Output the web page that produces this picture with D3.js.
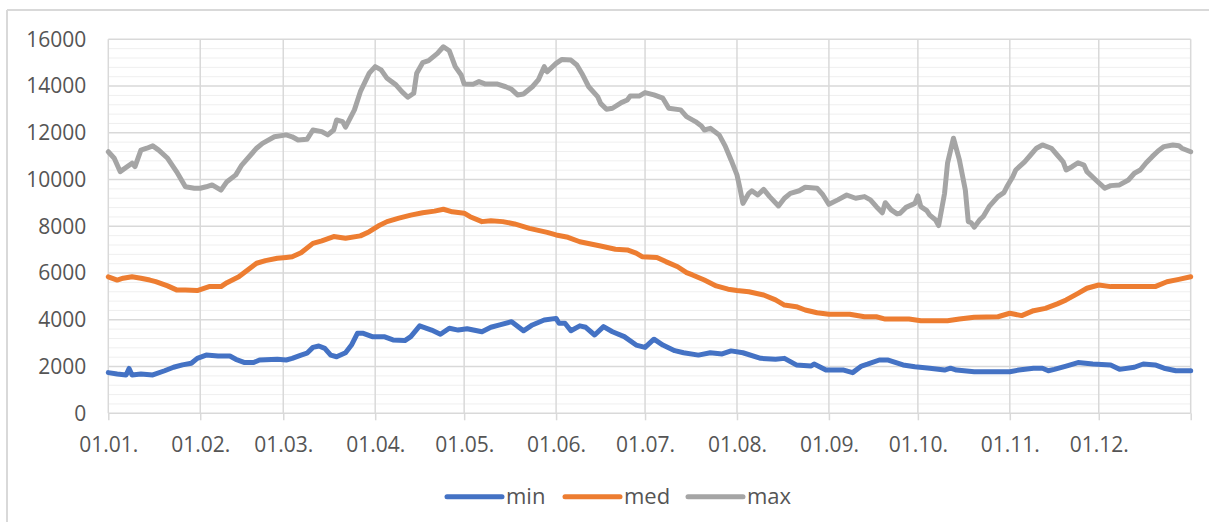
<!DOCTYPE html>
<html>
<head>
<meta charset="utf-8">
<script src="https://cdn.jsdelivr.net/npm/d3@7/dist/d3.min.js"></script>
<style>
  html, body { margin: 0; padding: 0; background: #ffffff; }
  svg { display: block; }
  text { font-family: "Open Sans", "Liberation Sans", sans-serif; fill: #555555; }
</style>
</head>
<body>
<svg id="chart" width="1209" height="526"></svg>
<script>
// ---- data (day offset from 1 January, value) ----
const monthLabels = ["01.01.", "01.02.", "01.03.", "01.04.", "01.05.", "01.06.", "01.07.", "01.08.", "01.09.", "01.10.", "01.11.", "01.12."];
const yTicks = [0, 2000, 4000, 6000, 8000, 10000, 12000, 14000, 16000];
const seriesNames = ["min", "med", "max"];

const maxDays = [0, 2, 4, 8, 9, 11, 13, 15, 17, 20, 23, 26, 29, 31, 33, 35, 38, 40, 43, 45, 48, 50, 52, 56, 60, 62, 64, 67, 69, 72, 74, 76, 77, 79, 80, 83, 85, 88, 90, 92, 94, 97, 99, 101, 103, 104, 106, 108, 111, 112, 113, 115, 117, 119, 120, 123, 125, 127, 131, 134, 136, 138, 140, 143, 145, 147, 148, 151, 153, 156, 158, 160, 162, 165, 166, 168, 170, 173, 175, 176, 179, 181, 184, 187, 189, 193, 195, 198, 200, 201, 203, 206, 208, 210, 212, 213, 214, 216, 217, 219, 221, 223, 226, 228, 230, 233, 235, 239, 241, 243, 246, 249, 252, 255, 257, 259, 261, 262, 264, 266, 267, 269, 272, 273, 274, 276, 277, 279, 280, 282, 283, 285, 287, 289, 290, 291, 292, 294, 295, 297, 300, 302, 303, 305, 306, 309, 311, 313, 315, 318, 320, 322, 323, 325, 327, 329, 330, 333, 336, 338, 341, 344, 346, 348, 350, 352, 354, 356, 359, 361, 362, 365];
const maxVals = [11190, 10910, 10340, 10700, 10550, 11260, 11340, 11440, 11260, 10910, 10340, 9690, 9630, 9630, 9690, 9770, 9550, 9910, 10200, 10620, 11050, 11340, 11550, 11830, 11910, 11830, 11690, 11720, 12120, 12050, 11910, 12120, 12550, 12480, 12240, 12980, 13760, 14550, 14830, 14690, 14330, 14050, 13760, 13520, 13690, 14550, 15000, 15090, 15400, 15540, 15680, 15510, 14830, 14470, 14090, 14080, 14190, 14090, 14090, 13970, 13860, 13620, 13660, 13970, 14260, 14830, 14610, 14970, 15140, 15110, 14900, 14470, 13970, 13550, 13260, 13010, 13050, 13290, 13400, 13570, 13570, 13720, 13620, 13480, 13050, 12980, 12690, 12480, 12290, 12120, 12190, 11910, 11440, 10840, 10200, 9630, 8980, 9410, 9520, 9340, 9580, 9270, 8870, 9200, 9410, 9520, 9670, 9630, 9340, 8940, 9130, 9340, 9200, 9270, 9130, 8840, 8580, 9010, 8700, 8530, 8560, 8810, 8980, 9300, 8840, 8670, 8480, 8270, 8030, 9410, 10700, 11770, 10840, 9550, 8200, 8150, 7960, 8300, 8410, 8840, 9270, 9440, 9690, 10120, 10410, 10760, 11050, 11340, 11480, 11340, 11050, 10760, 10410, 10550, 10720, 10620, 10340, 9980, 9630, 9740, 9770, 9980, 10270, 10410, 10720, 10980, 11220, 11410, 11480, 11450, 11340, 11190];

const medDays = [0, 3, 5, 8, 11, 14, 16, 20, 23, 26, 30, 34, 38, 40, 44, 47, 50, 53, 57, 60, 62, 65, 69, 72, 76, 80, 85, 88, 91, 94, 98, 102, 106, 110, 113, 116, 120, 122, 126, 129, 133, 137, 142, 148, 151, 155, 159, 166, 171, 175, 178, 180, 185, 188, 192, 195, 197, 201, 205, 209, 212, 216, 221, 225, 228, 232, 235, 239, 243, 250, 255, 259, 262, 270, 274, 283, 287, 292, 300, 304, 308, 312, 316, 320, 323, 327, 330, 334, 338, 345, 353, 357, 361, 365];
const medVals = [5840, 5700, 5780, 5840, 5780, 5700, 5630, 5450, 5280, 5280, 5250, 5420, 5420, 5590, 5840, 6130, 6420, 6530, 6630, 6670, 6700, 6870, 7270, 7380, 7560, 7490, 7590, 7770, 8010, 8200, 8350, 8480, 8580, 8650, 8730, 8620, 8560, 8410, 8200, 8240, 8200, 8100, 7910, 7740, 7630, 7530, 7340, 7160, 7020, 6990, 6850, 6700, 6670, 6490, 6270, 6020, 5920, 5700, 5450, 5310, 5250, 5200, 5060, 4850, 4630, 4560, 4420, 4300, 4240, 4240, 4130, 4130, 4030, 4030, 3960, 3960, 4030, 4110, 4130, 4280, 4180, 4390, 4490, 4680, 4850, 5130, 5350, 5490, 5420, 5420, 5420, 5630, 5730, 5840];

const minDays = [0, 3, 6, 7, 8, 11, 15, 19, 22, 25, 28, 30, 33, 37, 41, 43, 46, 49, 51, 57, 60, 62, 65, 67, 69, 71, 73, 75, 77, 80, 82, 84, 86, 89, 93, 96, 100, 102, 105, 109, 112, 115, 118, 121, 126, 129, 132, 136, 140, 143, 147, 151, 152, 154, 156, 159, 161, 164, 167, 170, 174, 178, 181, 184, 187, 191, 194, 199, 203, 207, 210, 214, 220, 225, 228, 232, 237, 238, 242, 248, 251, 254, 256, 260, 263, 268, 272, 277, 282, 284, 286, 292, 304, 307, 312, 315, 317, 319, 323, 327, 332, 338, 341, 346, 349, 353, 356, 360, 365];
const minVals = [1740, 1680, 1640, 1920, 1640, 1680, 1640, 1820, 1970, 2070, 2140, 2350, 2490, 2450, 2450, 2310, 2170, 2170, 2280, 2310, 2280, 2350, 2490, 2570, 2820, 2880, 2780, 2490, 2420, 2590, 2920, 3420, 3420, 3280, 3280, 3140, 3110, 3280, 3740, 3560, 3380, 3640, 3560, 3620, 3490, 3680, 3780, 3920, 3530, 3780, 3990, 4060, 3850, 3850, 3530, 3740, 3680, 3350, 3710, 3490, 3280, 2920, 2820, 3170, 2920, 2680, 2590, 2490, 2590, 2540, 2670, 2590, 2350, 2310, 2350, 2070, 2020, 2110, 1850, 1850, 1740, 2020, 2100, 2280, 2280, 2070, 1990, 1930, 1850, 1930, 1850, 1780, 1780, 1850, 1930, 1930, 1820, 1880, 2020, 2170, 2110, 2070, 1880, 1970, 2110, 2070, 1930, 1820, 1820];

const seriesColors = ["#4472C4", "#ED7D31", "#A5A5A5"];

// ---- layout ----
const svg = d3.select("#chart");
const plot = { left: 108.3, right: 1190.7, top: 39.3, bottom: 413.3 };
const year0 = new Date(2021, 0, 1);
const toDate = d => d3.timeDay.offset(year0, d);

const x = d3.scaleTime()
  .domain([year0, new Date(2022, 0, 1)])
  .range([plot.left, plot.right]);
const y = d3.scaleLinear().domain([0, 16000]).range([plot.bottom, plot.top]);

// chart border (top and left)
svg.append("line").attr("x1", 7).attr("x2", 1209).attr("y1", 10).attr("y2", 10)
  .attr("stroke", "#d9d9d9").attr("stroke-width", 2);
svg.append("line").attr("x1", 7).attr("x2", 7).attr("y1", 10).attr("y2", 522)
  .attr("stroke", "#d9d9d9").attr("stroke-width", 2);

// minor horizontal gridlines
const minorTicks = d3.range(0, 16001, 400).filter(v => v % 2000 !== 0);
svg.append("g").selectAll("line").data(minorTicks).join("line")
  .attr("x1", plot.left).attr("x2", plot.right)
  .attr("y1", d => y(d)).attr("y2", d => y(d))
  .attr("stroke", "#efefef").attr("stroke-width", 1);

// major horizontal gridlines
svg.append("g").selectAll("line").data(yTicks).join("line")
  .attr("x1", plot.left).attr("x2", plot.right)
  .attr("y1", d => y(d)).attr("y2", d => y(d))
  .attr("stroke", "#d9d9d9").attr("stroke-width", 1.5);

// month tick dates
const monthDates = monthLabels.map((l, i) => new Date(2021, i, 1));

// vertical gridlines at month starts and right edge
svg.append("g").selectAll("line").data(monthDates.concat([new Date(2022, 0, 1)])).join("line")
  .attr("x1", d => x(d)).attr("x2", d => x(d))
  .attr("y1", plot.top).attr("y2", plot.bottom)
  .attr("stroke", "#d9d9d9").attr("stroke-width", 1.5);

// x axis
const xAxis = d3.axisBottom(x)
  .tickValues(monthDates.concat([new Date(2022, 0, 1)]))
  .tickFormat((d, i) => i < monthLabels.length ? monthLabels[i] : "")
  .tickSize(7).tickPadding(17);
const gx = svg.append("g").attr("transform", `translate(0,${plot.bottom})`).call(xAxis);
gx.select(".domain").remove();
gx.selectAll(".tick line").attr("stroke", "#d9d9d9").attr("stroke-width", 1.5);
gx.selectAll(".tick text").attr("font-size", 21).attr("fill", "#555555")
  .style("font-family", "'Open Sans', sans-serif");

// y axis
const yAxis = d3.axisLeft(y).tickValues(yTicks).tickFormat(d3.format("d")).tickSize(0).tickPadding(22);
const gy = svg.append("g").attr("transform", `translate(${plot.left},0)`).call(yAxis);
gy.select(".domain").remove();
gy.selectAll(".tick text").attr("font-size", 21).attr("fill", "#555555")
  .style("font-family", "'Open Sans', sans-serif");

// series lines
const line = d3.line().x(d => x(toDate(d[0]))).y(d => y(d[1]));
const seriesData = [
  d3.zip(minDays, minVals),
  d3.zip(medDays, medVals),
  d3.zip(maxDays, maxVals)
];
seriesData.forEach((data, i) => {
  svg.append("path").datum(data)
    .attr("d", line)
    .attr("fill", "none")
    .attr("stroke", seriesColors[i])
    .attr("stroke-width", 5)
    .attr("stroke-linejoin", "round")
    .attr("stroke-linecap", "round");
});

// legend
const legendX = [447, 565, 688];
const legend = svg.append("g");
seriesNames.forEach((name, i) => {
  legend.append("line")
    .attr("x1", legendX[i]).attr("x2", legendX[i] + 55)
    .attr("y1", 496.7).attr("y2", 496.7)
    .attr("stroke", seriesColors[i]).attr("stroke-width", 5)
    .attr("stroke-linecap", "round");
  legend.append("text")
    .attr("x", legendX[i] + 59).attr("y", 504)
    .attr("font-size", 22)
    .text(name);
});
</script>
</body>
</html>
